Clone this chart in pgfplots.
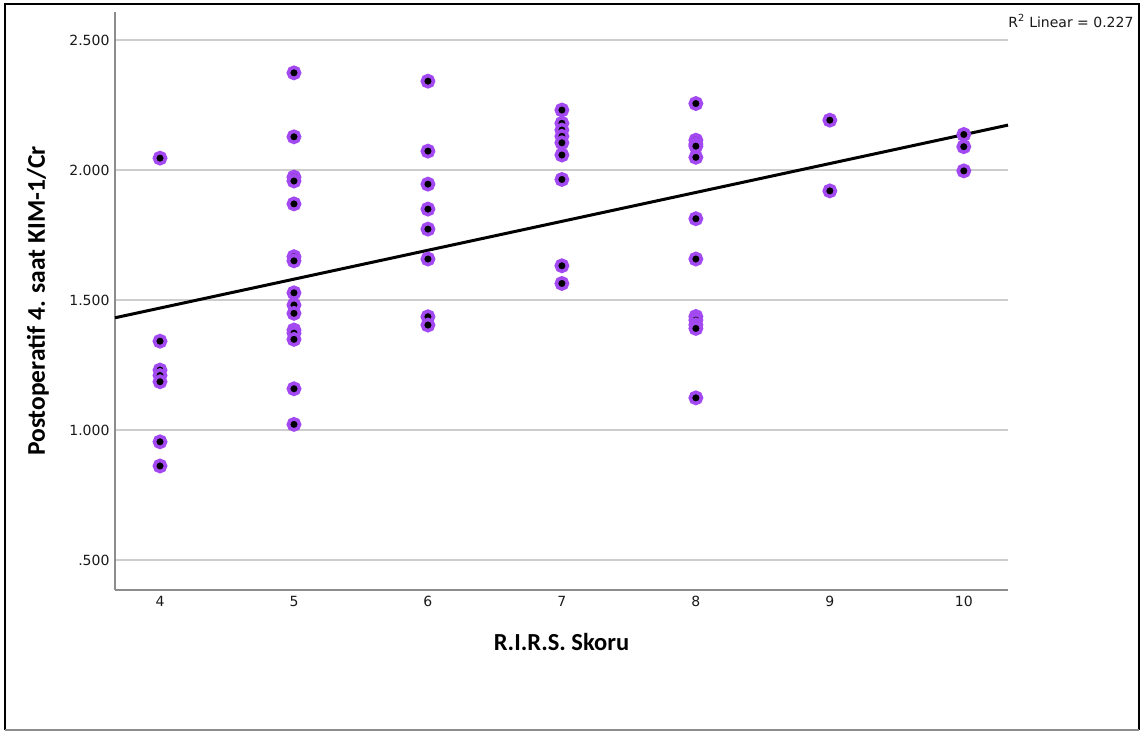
\documentclass[border=0pt]{standalone}
\usepackage{fontspec}
\usepackage{pgfplots}
\usepackage{pgfplotstable}
\pgfplotsset{compat=1.18}
\newfontfamily\dejavu{DejaVu Sans}
\newfontfamily\carlito{Carlito}
\definecolor{ptpurple}{RGB}{163,73,241}
\definecolor{gridgray}{RGB}{205,205,205}
\definecolor{axgray}{RGB}{140,140,140}
\pgfplotstableread{
x y
4 2.046
4 1.342
4 1.231
4 1.210
4 1.186
4 0.955
4 0.862
5 2.374
5 2.128
5 1.973
5 1.958
5 1.870
5 1.667
5 1.651
5 1.528
5 1.481
5 1.449
5 1.385
5 1.373
5 1.349
5 1.159
5 1.022
6 2.342
6 2.073
6 1.946
6 1.850
6 1.773
6 1.658
6 1.436
6 1.404
7 2.231
7 2.180
7 2.154
7 2.130
7 2.105
7 2.058
7 1.964
7 1.632
7 1.564
8 2.256
8 2.115
8 2.100
8 2.092
8 2.049
8 1.813
8 1.658
8 1.437
8 1.423
8 1.405
8 1.391
8 1.124
9 2.192
9 1.920
10 2.137
10 2.090
10 1.997
}\scatterdata
\begin{document}
\begin{tikzpicture}
\useasboundingbox (0,0) rectangle (1144pt,-731pt);
\begin{axis}[
  at={(115pt,-590pt)}, anchor=south west,
  scale only axis, width=893pt, height=578pt,
  xmin=3.664, xmax=10.33, ymin=0.385, ymax=2.608,
  axis x line*=bottom, axis y line*=left,
  axis line style={axgray, line width=1.5pt},
  xtick={4,5,6,7,8,9,10},
  ytick={0.5,1,1.5,2,2.5},
  yticklabels={.500,1.000,1.500,2.000,2.500},
  major tick length=0pt,
  ymajorgrids,
  grid style={gridgray, line width=1.5pt},
  tick label style={font=\dejavu\fontsize{14}{16}\selectfont, text=black!90},
  /pgf/number format/assume math mode=true,
  xticklabel style={yshift=-3pt},
  yticklabel style={xshift=-2pt},
  xlabel={R.I.R.S. Skoru},
  ylabel={Postoperatif 4. saat KIM-1/Cr},
  xlabel style={font=\carlito\bfseries\fontsize{24.5}{28}\selectfont, at={(axis description cs:0.5,0)}, anchor=center, yshift=-52pt},
  ylabel style={font=\carlito\bfseries\fontsize{25.5}{28}\selectfont, at={(axis description cs:-0.0862,0.5)}, anchor=center, rotate=0},
  clip=false,
]
\addplot[only marks, mark=*, mark size=5.6pt, mark options={draw=ptpurple, fill=black, line width=3.6pt}] table[x=x,y=y] {\scatterdata};
\addplot[black, line width=3pt] coordinates {(3.664,1.432) (10.33,2.173)};
\end{axis}
\node[anchor=east, font=\dejavu\fontsize{14}{16}\selectfont, text=black!90] at (1137pt,-21pt) {R\textsuperscript{2} Linear = 0.227};
\draw[black, line width=2pt] (5pt,-730pt) -- (5pt,-4pt) -- (1139pt,-4pt) -- (1139pt,-730pt);
\draw[axgray, line width=1.5pt] (5pt,-730pt) -- (1139pt,-730pt);
\end{tikzpicture}
\end{document}
